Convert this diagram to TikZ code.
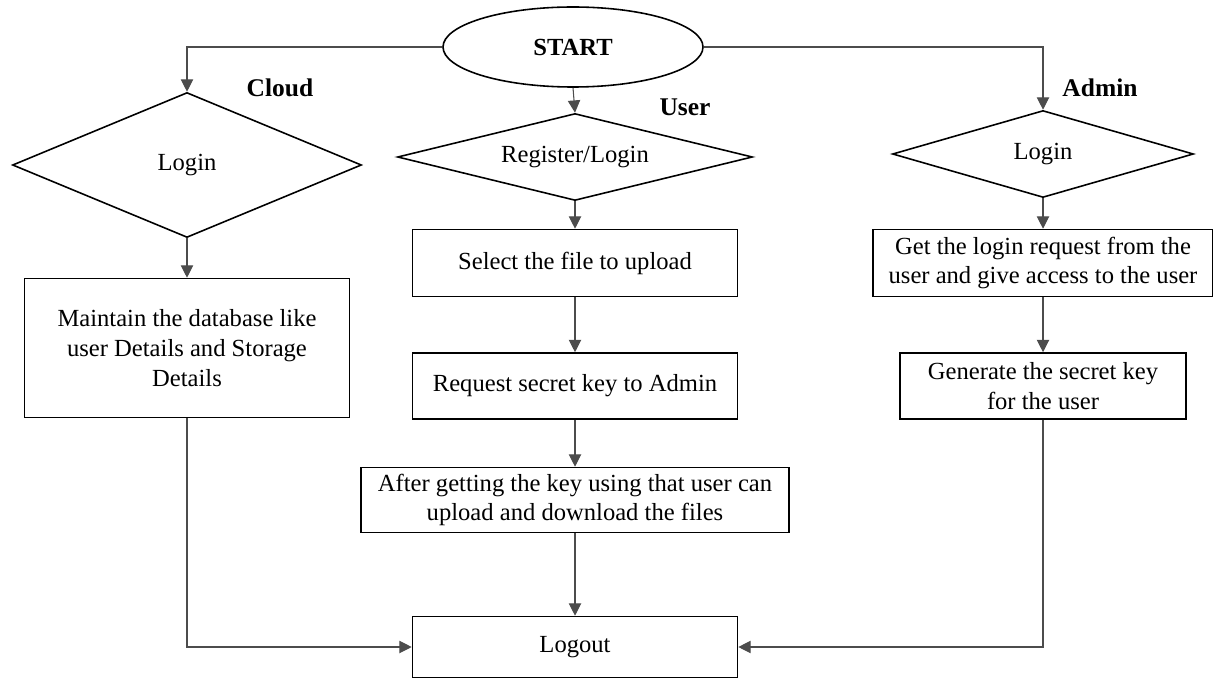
\documentclass[tikz,border=0pt]{standalone}
\usepackage{fontspec}
\setmainfont{Liberation Serif}
\usetikzlibrary{shapes.geometric,arrows.meta}

\begin{document}
\begin{tikzpicture}[
    font=\fontsize{14}{17}\selectfont,
    box/.style={draw, line width=0.9pt, align=center, inner sep=2pt},
    decide/.style={draw, diamond, line width=0.9pt, inner sep=0pt},
    conn/.style={draw=black!70, line width=0.6pt, -{Triangle[length=7pt, width=7pt]}},
    lane/.style={font=\fontsize{14.5}{17}\selectfont\bfseries}
]

    \useasboundingbox (0,0) rectangle (24.26,-13.6);

    \node[draw, ellipse, line width=0.9pt, minimum width=5.2cm, minimum height=1.6cm] (start) at (11.46,-0.94) {\textbf{START}};

    % lanes
    \node[lane] (cloudlab) at (5.6,-1.76) {Cloud};
    \node[lane] (userlab) at (13.7,-2.14) {User};
    \node[lane] (adminlab) at (22.0,-1.76) {Admin};

    \node[decide, aspect=2.4, minimum width=6.98cm, minimum height=2.9cm] (cloudlog) at (3.74,-3.3) {Login};
    \node[decide, aspect=4.1, minimum width=7.1cm, minimum height=1.74cm] (userlog) at (11.5,-3.14) {Register/Login};
    \node[decide, aspect=3.46, minimum width=6.02cm, minimum height=1.74cm] (adminlog) at (20.86,-3.08) {Login};

    \node[box, minimum width=6.5cm, minimum height=2.78cm] (cloudbox) at (3.74,-6.96)
        {Maintain the database like\\ user Details and Storage\\ Details};

    \node[box, minimum width=6.5cm, minimum height=1.34cm] (select) at (11.5,-5.26) {Select the file to upload};
    \node[box, minimum width=6.5cm, minimum height=1.32cm] (request) at (11.5,-7.72) {Request secret key to Admin};
    \node[box, minimum width=8.56cm, minimum height=1.3cm] (after) at (11.5,-10.0)
        {After getting the key using that user can\\ upload and download the files};
    \node[box, minimum width=6.5cm, minimum height=1.22cm] (logout) at (11.5,-12.94) {Logout};

    \node[box, minimum width=6.8cm, minimum height=1.34cm] (getbox) at (20.86,-5.26)
        {Get the login request from the\\ user and give access to the user};
    \node[box, minimum width=5.72cm, minimum height=1.32cm] (genbox) at (20.86,-7.72)
        {Generate the secret key\\ for the user};

    % connectors
    \draw[conn] (start.west) -| (cloudlog.north);
    \draw[conn] (start.east) -| (adminlog.north);
    \draw[conn] (start.south) -- (userlog.north);

    \draw[conn] (cloudlog.south) -- (cloudbox.north);
    \draw[conn] (userlog.south) -- (select.north);
    \draw[conn] (select.south) -- (request.north);
    \draw[conn] (request.south) -- (after.north);
    \draw[conn] (after.south) -- (logout.north);
    \draw[conn] (adminlog.south) -- (getbox.north);
    \draw[conn] (getbox.south) -- (genbox.north);

    \draw[conn] (cloudbox.south) |- (logout.west);
    \draw[conn] (genbox.south) |- (logout.east);

\end{tikzpicture}
\end{document}
